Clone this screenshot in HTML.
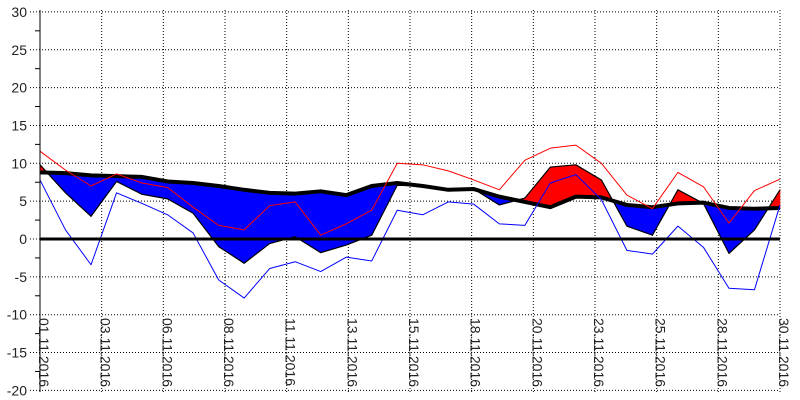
<!DOCTYPE html>
<html><head><meta charset="utf-8"><style>
html,body{margin:0;padding:0;background:#fff;}
svg{display:block;font-family:"Liberation Sans",sans-serif;}
</style></head><body>
<svg id="chart" width="800" height="400" viewBox="0 0 800 400" xmlns="http://www.w3.org/2000/svg"></svg>
<script>
const dates = ["01.11.2016","03.11.2016","06.11.2016","08.11.2016","11.11.2016","13.11.2016","15.11.2016","18.11.2016","20.11.2016","23.11.2016","25.11.2016","28.11.2016","30.11.2016"];
const yTicks = [30,25,20,15,10,5,0,-5,-10,-15,-20];
const meanT = [9.8,6.1,3.0,7.6,5.9,5.3,3.4,-1.0,-3.2,-0.6,0.3,-1.8,-0.8,0.5,7.1,7.0,6.6,6.6,4.5,5.4,9.5,9.8,7.8,1.7,0.5,6.5,4.7,-1.9,1.2,6.5];
const normT = [8.8,8.7,8.4,8.3,8.2,7.6,7.4,7.0,6.5,6.1,6.0,6.3,5.8,7.0,7.4,7.0,6.5,6.6,5.6,4.9,4.2,5.6,5.5,4.5,4.2,4.7,4.8,4.1,4.0,4.1];
const maxT = [11.6,9.1,7.0,8.6,7.4,6.8,4.2,1.8,1.2,4.4,4.9,0.5,2.0,3.8,10.0,9.8,9.0,7.8,6.5,10.4,12.0,12.4,10.0,5.8,4.0,8.8,6.9,2.1,6.4,7.9];
const minT = [7.8,1.2,-3.4,6.1,4.7,3.2,0.8,-5.4,-7.8,-3.9,-3.0,-4.3,-2.4,-2.9,3.8,3.2,4.9,4.6,2.0,1.8,7.4,8.5,5.2,-1.5,-2.0,1.7,-1.1,-6.5,-6.7,4.5];

const NS="http://www.w3.org/2000/svg";
const svg=document.getElementById('chart');
const X0=40,X1=780,Y0=239,PX=7.57;
const xs=i=>X0+i*(X1-X0)/(meanT.length-1);
const ys=v=>Y0-v*PX;
function el(tag,attrs,parent){const e=document.createElementNS(NS,tag);for(const k in attrs)e.setAttribute(k,attrs[k]);(parent||svg).appendChild(e);return e;}

const grid=el('g',{});


yTicks.forEach(v=>{
  const l=el('line',{x1:30,x2:X1,y1:ys(v),y2:ys(v),stroke:'#000','stroke-width':1,'stroke-dasharray':'1,2'},grid);
  
  
});
dates.forEach((d,k)=>{
  const x=X0+k*(X1-X0)/(dates.length-1);
  const l=el('line',{x1:x,x2:x,y1:10,y2:392,stroke:'#000','stroke-width':1,'stroke-dasharray':'1,2'},grid);
  
  
});

const fills=el('g',{});


for(let i=0;i<meanT.length-1;i++){
  const d0=meanT[i]-normT[i],d1=meanT[i+1]-normT[i+1];
  const a={x:xs(i),m:ys(meanT[i]),n:ys(normT[i])},b={x:xs(i+1),m:ys(meanT[i+1]),n:ys(normT[i+1])};
  const add=(pts,pos)=>{
    const p=el('polygon',{points:pts.map(q=>q.join(',')).join(' '),fill:pos?'#ff0000':'#0000ff',stroke:pos?'#ff0000':'#0000ff','stroke-width':0.6},fills);
    
    
  };
  if(d0*d1>=0){
    add([[a.x,a.m],[b.x,b.m],[b.x,b.n],[a.x,a.n]],(d0+d1)>0);
  }else{
    const t=d0/(d0-d1);const cx=a.x+t*(b.x-a.x);const cy=a.m+t*(b.m-a.m);
    add([[a.x,a.m],[cx,cy],[a.x,a.n]],d0>0);
    add([[cx,cy],[b.x,b.m],[b.x,b.n]],d1>0);
  }
}

function line(arr,color,w,name){
  const p=el('polyline',{points:arr.map((v,i)=>xs(i)+','+ys(v)).join(' '),fill:'none',stroke:color,'stroke-width':w,'stroke-linejoin':'round'});
  
  
}
line(meanT,'#000',1.2,'mean-temp-line');
line(normT,'#000',4,'norm-line');
line(maxT,'#ff0000',1,'max-temp-line');
line(minT,'#0000ff',1,'min-temp-line');

const z=el('line',{x1:X0,x2:X1,y1:ys(0),y2:ys(0),stroke:'#000','stroke-width':3});



const ax=el('line',{x1:X0,x2:X0,y1:10,y2:392,stroke:'#000','stroke-width':1});


yTicks.forEach(v=>{
  const t=el('text',{x:27,y:ys(v)+5,'text-anchor':'end','font-size':14,fill:'#222'});
  t.textContent=v;
  
  
  if(v>-20){
    const m=el('line',{x1:35,x2:X0,y1:ys(v-2.5),y2:ys(v-2.5),stroke:'#000','stroke-width':1});
    
    
  }
});
dates.forEach((d,k)=>{
  const x=X0+k*(X1-X0)/(dates.length-1);
  const t=el('text',{x:0,y:0,transform:`translate(${x-1},318) rotate(90)`,'font-size':14,fill:'#222'});
  t.textContent=d;
  
  
});
</script>
</body></html>
